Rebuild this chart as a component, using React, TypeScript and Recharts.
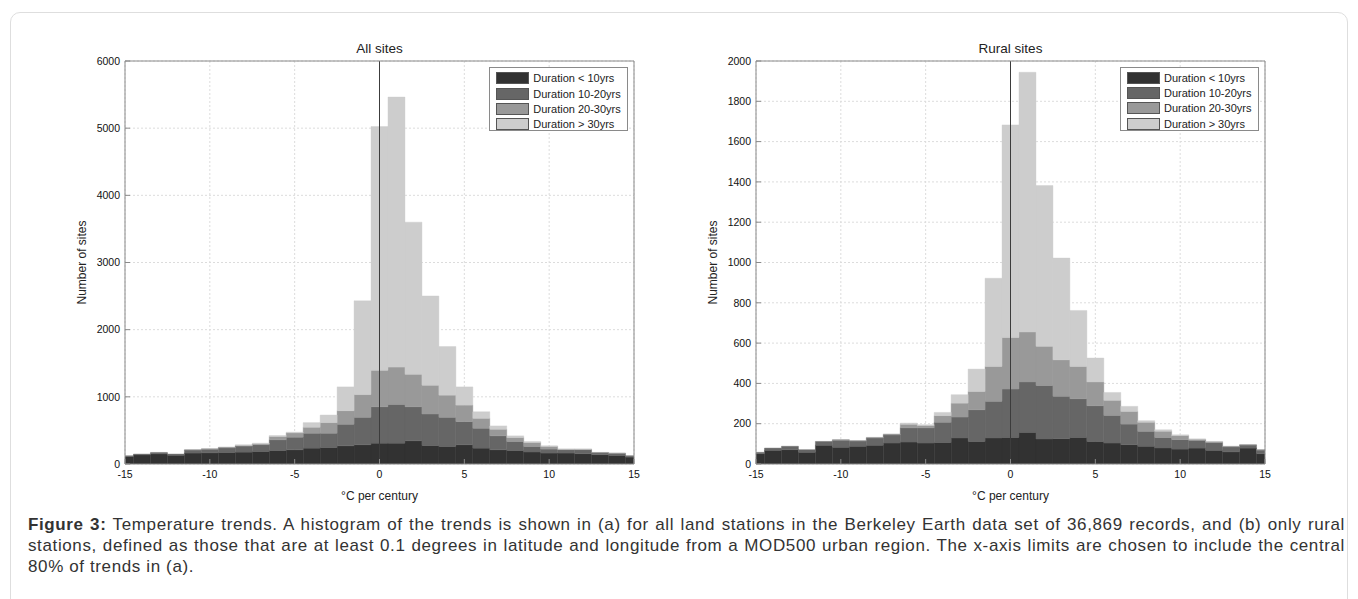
import React from 'react';
import { ComposedChart, Bar, XAxis, YAxis, CartesianGrid, ReferenceLine } from 'recharts';

// bin centres, °C per century
const bins = [-15, -14, -13, -12, -11, -10, -9, -8, -7, -6, -5, -4, -3, -2, -1, 0, 1, 2, 3, 4, 5, 6, 7, 8, 9, 10, 11, 12, 13, 14, 15];

// All sites, counts per duration class
const allLt10 = [110, 135, 150, 130, 163, 165, 172, 177, 187, 202, 212, 236, 246, 271, 286, 310, 310, 345, 276, 261, 286, 236, 212, 202, 177, 163, 163, 153, 138, 128, 103];
const all10to20 = [13, 13, 22, 18, 45, 55, 68, 90, 100, 158, 187, 222, 212, 320, 409, 542, 577, 507, 468, 434, 345, 296, 207, 133, 84, 59, 50, 60, 30, 30, 18];
const all20to30 = [0, 0, 0, 0, 4, 7, 11, 10, 13, 49, 64, 89, 158, 202, 339, 542, 556, 483, 428, 330, 246, 148, 98, 59, 59, 39, 7, 7, 4, 5, 2];
const allGt30 = [0, 0, 0, 0, 0, 0, 0, 9, 10, 15, 10, 69, 113, 355, 1395, 3630, 4020, 2266, 1330, 724, 271, 98, 50, 25, 15, 10, 2, 2, 0, 0, 0];

// Rural sites
const rurLt10 = [51, 68, 71, 58, 93, 83, 88, 93, 104, 109, 104, 107, 129, 112, 129, 132, 157, 124, 126, 132, 112, 104, 96, 88, 79, 74, 79, 68, 60, 79, 51];
const rur10to20 = [7, 11, 17, 13, 19, 35, 26, 36, 40, 70, 75, 100, 104, 157, 182, 240, 250, 266, 210, 192, 177, 137, 102, 74, 53, 47, 38, 38, 25, 15, 18];
const rur20to30 = [0, 0, 0, 0, 0, 3, 2, 3, 5, 18, 12, 33, 69, 91, 173, 256, 248, 194, 181, 160, 118, 75, 63, 45, 30, 20, 6, 5, 3, 2, 2];
const rurGt30 = [0, 0, 0, 0, 0, 0, 0, 0, 0, 6, 4, 16, 42, 111, 438, 1055, 1289, 798, 505, 278, 119, 39, 25, 8, 8, 4, 1, 1, 0, 0, 0];

const xTicks = [-15, -10, -5, 0, 5, 10, 15];
const allYTicks = [0, 1000, 2000, 3000, 4000, 5000, 6000];
const rurYTicks = [0, 200, 400, 600, 800, 1000, 1200, 1400, 1600, 1800, 2000];

const durationLabels = ['Duration < 10yrs', 'Duration 10-20yrs', 'Duration 20-30yrs', 'Duration > 30yrs'];
const colors = ['#323232', '#666666', '#999999', '#cdcdcd'];

const FONT = '"Liberation Sans", Arial, sans-serif';
const AXIS = '#8a8a8a';

const buildRows = (series: number[][]) =>
  bins.map((x, i) => ({ x, d0: series[0][i], d1: series[1][i], d2: series[2][i], d3: series[3][i] }));

const allRows = buildRows([allLt10, all10to20, all20to30, allGt30]);
const rurRows = buildRows([rurLt10, rur10to20, rur20to30, rurGt30]);

const LegendBox = ({ left, top }: { left: number; top: number }) => (
  <div
    style={{
      position: 'absolute', left, top, width: 137, height: 62,
      border: '1px solid #8a8a8a', background: '#fff', fontFamily: FONT, fontSize: 11, color: '#222',
    }}
  >
    {durationLabels.map((lab, i) => (
      <div key={lab} style={{ position: 'absolute', left: 6, top: 3 + i * 15.4, height: 14, display: 'flex', alignItems: 'center' }}>
        <span style={{ width: 31, height: 10, background: colors[i], border: '1px solid #555', display: 'inline-block' }} />
        <span style={{ marginLeft: 4, whiteSpace: 'nowrap' }}>{lab}</span>
      </div>
    ))}
  </div>
);

const Panel = ({ title, rows, yTicks, left }: { title: string; rows: any[]; yTicks: number[]; left: number }) => {
  const yMax = yTicks[yTicks.length - 1];
  return (
    <div style={{ position: 'absolute', left, top: 22 }}>
      <ComposedChart
        width={620}
        height={490}
        data={rows}
        margin={{ top: 5, right: 6, bottom: 16, left: 40 }}
        barCategoryGap={0}
        barGap={0}
      >
        <CartesianGrid stroke="#dcdcdc" strokeDasharray="2 2" />
        <XAxis
          dataKey="x"
          type="number"
          domain={[-15, 15]}
          ticks={xTicks}
          allowDataOverflow
          height={40}
          tickSize={-5}
          tickMargin={12}
          stroke={AXIS}
          tick={{ fill: '#111', fontSize: 10.5, fontFamily: FONT }}
          label={{ value: '°C per century', position: 'insideBottom', offset: 4, fill: '#222', fontSize: 12, fontFamily: FONT }}
        />
        <XAxis
          xAxisId="top"
          orientation="top"
          type="number"
          domain={[-15, 15]}
          ticks={xTicks}
          height={26}
          tick={false}
          tickSize={-5}
          stroke={AXIS}
          label={{ value: title, position: 'center', fill: '#222', fontSize: 13.5, fontFamily: FONT }}
        />
        <YAxis
          type="number"
          domain={[0, yMax]}
          ticks={yTicks}
          allowDataOverflow
          width={60}
          tickSize={-5}
          tickMargin={10}
          stroke={AXIS}
          tick={{ fill: '#111', fontSize: 10.5, fontFamily: FONT }}
          label={{ value: 'Number of sites', angle: -90, position: 'insideLeft', offset: 17, fill: '#222', fontSize: 12, fontFamily: FONT, style: { textAnchor: 'middle' } }}
        />
        <YAxis
          yAxisId="right"
          orientation="right"
          type="number"
          domain={[0, yMax]}
          ticks={yTicks}
          width={5}
          tick={false}
          tickSize={-5}
          stroke={AXIS}
        />
        {['d0', 'd1', 'd2', 'd3'].map((k, i) => (
          <Bar key={k} dataKey={k} stackId="a" fill={colors[i]} stroke={colors[i]} strokeWidth={0.4} isAnimationActive={false} />
        ))}
        <ReferenceLine x={0} stroke="#3c3c3c" strokeWidth={1} />
      </ComposedChart>
    </div>
  );
};

export default function App() {
  return (
    <div style={{ position: 'relative', width: 1342, height: 591, overflow: 'hidden' }}>
      <div
        style={{
          position: 'absolute', left: 2, top: 4, width: 1338, height: 600,
          border: '1px solid #dedede', borderRadius: 10, boxSizing: 'border-box',
        }}
      />
      <Panel title="All sites" rows={allRows} yTicks={allYTicks} left={17} />
      <Panel title="Rural sites" rows={rurRows} yTicks={rurYTicks} left={647.7} />
      <LegendBox left={481.3} top={59.3} />
      <LegendBox left={1112} top={58.7} />
      <div
        style={{
          position: 'absolute', left: 20, top: 506, width: 1317,
          fontFamily: FONT, fontSize: 17, letterSpacing: 0.62, lineHeight: '21px', color: '#333', textAlign: 'justify',
        }}
      >
        <b>Figure 3:</b> Temperature trends. A histogram of the trends is shown in (a) for all land stations in the
        Berkeley Earth data set of 36,869 records, and (b) only rural stations, defined as those that are at least 0.1
        degrees in latitude and longitude from a MOD500 urban region. The x-axis limits are chosen to include the central
        80% of trends in (a).
      </div>
    </div>
  );
}
